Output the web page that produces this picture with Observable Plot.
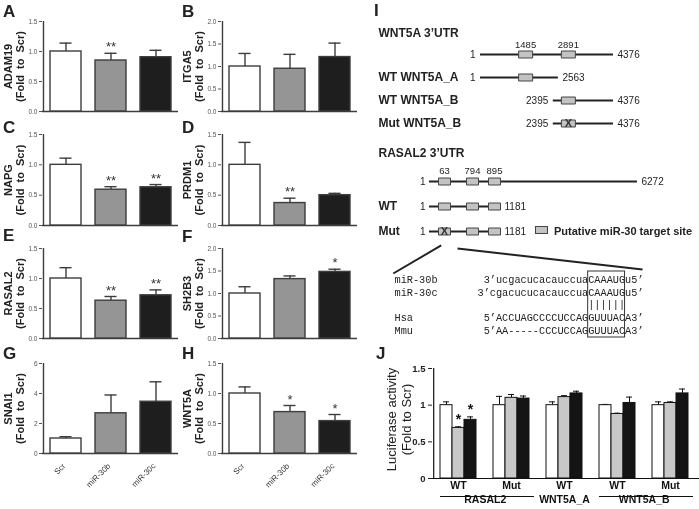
<!DOCTYPE html>
<html><head><meta charset="utf-8">
<script src="https://cdn.jsdelivr.net/npm/d3@7"></script>
<script src="https://cdn.jsdelivr.net/npm/@observablehq/plot@0.6"></script>
<style>
html,body{margin:0;padding:0;background:#fff;}
#fig{position:relative;width:699px;height:509px;overflow:hidden;font-family:Arial,"Liberation Sans",Helvetica,sans-serif;}
#fig svg{will-change:transform;}
.letter{position:absolute;font-weight:bold;font-size:17px;line-height:17px;color:#222;}
.legend{position:absolute;font-weight:bold;font-size:11px;line-height:12px;color:#222;white-space:nowrap;will-change:transform;}
.legend span.sw{display:inline-block;width:11px;height:6px;background:#c3c3c3;border:1px solid #444;margin-right:6px;vertical-align:1px;}
</style></head><body><div id="fig"></div>
<script>
// ---------------- data: panels A–H (qRT-PCR, fold to Scr) ----------------
const treatments = ["Scr", "miR-30b", "miR-30c"];
const adam19 = [1.00, 0.85, 0.905], adam19Err = [0.14, 0.12, 0.115], adam19Sig = ["", "**", ""];
const itga5  = [1.00, 0.95, 1.21],  itga5Err  = [0.29, 0.32, 0.31],  itga5Sig  = ["", "", ""];
const napg   = [1.00, 0.59, 0.63],  napgErr   = [0.11, 0.05, 0.045], napgSig   = ["", "**", "**"];
const prdm1  = [1.00, 0.37, 0.50],  prdm1Err  = [0.37, 0.08, 0.03],  prdm1Sig  = ["", "**", ""];
const rasal2 = [1.00, 0.63, 0.72],  rasal2Err = [0.18, 0.07, 0.09],  rasal2Sig = ["", "**", "**"];
const sh2b3  = [1.00, 1.32, 1.48],  sh2b3Err  = [0.15, 0.07, 0.06],  sh2b3Sig  = ["", "", "*"];
const snai1  = [1.00, 2.68, 3.45],  snai1Err  = [0.12, 1.22, 1.33],  snai1Sig  = ["", "", ""];
const wnt5a  = [1.00, 0.69, 0.54],  wnt5aErr  = [0.11, 0.11, 0.11],  wnt5aSig  = ["", "*", "*"];
const ticks15 = [0, 0.5, 1, 1.5], ticks20 = [0, 0.5, 1, 1.5, 2], ticks6 = [0, 2, 4, 6];

// ---------------- data: panel I (3'UTR constructs) ----------------
const wntRows = ["full", "A", "B", "MutB"];
const wntRowLabels = ["", "WT WNT5A_A", "WT WNT5A_B", "Mut WNT5A_B"];
const wntStart = [1, 1, 2395, 2395];
const wntEnd = [4376, 2563, 4376, 4376];
const wntSites = [1485, 2891];
const rasRows = ["full", "WT", "Mut"];
const rasRowLabels = ["", "WT", "Mut"];
const rasStart = [1, 1, 1];
const rasEnd = [6272, 1181, 1181];
const rasSites = [63, 794, 895];
const rasLandmarks = [1, 63, 794, 895, 1181, 6272];
const alignLabels = ["miR-30b", "miR-30c", "", "Hsa", "Mmu"];
const alignSeqs = ["3’ucgacucacauccuaCAAAUGu5’", "3’cgacucucacauccuaCAAAUGu5’", "||||||", "5’ACCUAGCCCCUCCAGGUUUACA3’", "5’AA-----CCCUCCAGGUUUACA3’"];
const alignStart = [1, 0, 18, 1, 1];
const seed = "CAAAUG";

// ---------------- data: panel J (luciferase) ----------------
const jGroups = ["RASAL2 WT", "RASAL2 Mut", "WNT5A_A WT", "WNT5A_B WT", "WNT5A_B Mut"];
const jTickLabels = ["WT", "Mut", "WT", "WT", "Mut"];
const lucScr = [1.00, 1.00, 1.00, 1.00, 1.00], lucScrErr = [0.045, 0.12, 0.045, 0.01, 0.045], lucScrSig = ["", "", "", "", ""];
const luc30b = [0.69, 1.10, 1.11, 0.88, 1.03], luc30bErr = [0.015, 0.045, 0.02, 0.01, 0.015], luc30bSig = ["*", "", "", "", ""];
const luc30c = [0.80, 1.09, 1.16, 1.03, 1.16], luc30cErr = [0.04, 0.035, 0.03, 0.08, 0.06], luc30cSig = ["*", "", "", "", ""];
const jSuper = [
  {label: "RASAL2", from: "RASAL2 WT", to: "RASAL2 Mut"},
  {label: "WNT5A_A", from: "WNT5A_A WT", to: "WNT5A_A WT"},
  {label: "WNT5A_B", from: "WNT5A_B WT", to: "WNT5A_B Mut"}
];

// ---------------- drawing ----------------
const FONT = 'Arial, "Liberation Sans", Helvetica, sans-serif';
const MONO = '"Liberation Mono", "Courier New", monospace';
const fig = document.getElementById("fig");
function place(el, left, top) {
  el.style.position = "absolute";
  el.style.left = left + "px";
  el.style.top = top + "px";
  fig.appendChild(el);
}
function letter(ch, left, top) {
  const d = document.createElement("div");
  d.className = "letter"; d.textContent = ch;
  d.style.left = left + "px"; d.style.top = top + "px";
  fig.appendChild(d);
}
const baseStyle = (extra) => Object.assign({background: "transparent", overflow: "visible", fontFamily: FONT, color: "#222"}, extra);

const AX = "#3d3d3d";
const PI = 0.32, PO = 0.155;
const ahFill = ["#ffffff", "#959595", "#1e1e1e"];
const cols = [0, 179];
const rows = [
  {top: 0, mt: 21, h: 117, mb: 6},
  {top: 117, mt: 17, h: 114, mb: 6},
  {top: 231, mt: 17, h: 113, mb: 6},
  {top: 344, mt: 19, h: 165, mb: 56}
];
const panels = [
  {L: "A", gene: "ADAM19", v: adam19, e: adam19Err, s: adam19Sig, ticks: ticks15, c: 0, r: 0},
  {L: "B", gene: "ITGA5", v: itga5, e: itga5Err, s: itga5Sig, ticks: ticks20, c: 1, r: 0},
  {L: "C", gene: "NAPG", v: napg, e: napgErr, s: napgSig, ticks: ticks15, c: 0, r: 1},
  {L: "D", gene: "PRDM1", v: prdm1, e: prdm1Err, s: prdm1Sig, ticks: ticks15, c: 1, r: 1},
  {L: "E", gene: "RASAL2", v: rasal2, e: rasal2Err, s: rasal2Sig, ticks: ticks15, c: 0, r: 2},
  {L: "F", gene: "SH2B3", v: sh2b3, e: sh2b3Err, s: sh2b3Sig, ticks: ticks20, c: 1, r: 2},
  {L: "G", gene: "SNAI1", v: snai1, e: snai1Err, s: snai1Sig, ticks: ticks6, c: 0, r: 3, xl: true},
  {L: "H", gene: "WNT5A", v: wnt5a, e: wnt5aErr, s: wnt5aSig, ticks: ticks15, c: 1, r: 3, xl: true}
];

panels.forEach(p => {
  const row = rows[p.r];
  const W = 180, ML = 42, MR = 2;
  const yMax = p.ticks[p.ticks.length - 1];
  const data = treatments.map((t, i) => ({t, v: p.v[i], top: p.v[i] + p.e[i], s: p.s[i]}));
  const xs = d3.scaleBand(treatments, [ML, W - MR]).paddingInner(PI).paddingOuter(PO);
  const axisDx = ML - (xs(treatments[0]) + xs.bandwidth() / 2);
  const capIn = (xs.bandwidth() - 12) / 2;
  const fmt = yMax > 2 ? d3.format("d") : d3.format(".1f");
  const marks = [
    Plot.ruleY([0], {stroke: AX, strokeWidth: 1.4}),
    Plot.ruleX([treatments[0]], {x: d => d, y1: () => 0, y2: () => yMax, dx: axisDx, stroke: AX, strokeWidth: 1.4}),
    Plot.ruleX(data, {x: "t", y1: "v", y2: "top", stroke: AX, strokeWidth: 1.4}),
    Plot.tickY(data, {x: "t", y: "top", stroke: AX, strokeWidth: 1.4, insetLeft: capIn, insetRight: capIn}),
    Plot.barY(data, {x: "t", y: "v", fill: "t", stroke: AX, strokeWidth: 1.4}),
    Plot.text(data.filter(d => d.s), {x: "t", y: "top", text: "s", dy: -6, fontSize: 13, fill: "#333"}),
    Plot.text([p.gene], {frameAnchor: "left", rotate: -90, textAnchor: "middle", dx: -34, text: d => d, fontSize: 11, fontWeight: "bold", fill: "#222"}),
    Plot.text(["(Fold to Scr)"], {frameAnchor: "left", rotate: -90, textAnchor: "middle", dx: -22, text: d => d, fontSize: 11, fontWeight: "bold", fill: "#222"})
  ];
  if (p.xl) {
    marks.push(Plot.text(treatments, {x: d => d, frameAnchor: "bottom", rotate: -45, textAnchor: "end", dy: 13, dx: 0, text: d => d, fontSize: 8, fill: "#333"}));
  }
  const svg = Plot.plot({
    width: W, height: row.h, marginLeft: ML, marginRight: MR, marginTop: row.mt, marginBottom: row.mb,
    style: baseStyle({fontSize: "6.5px", color: "#555"}),
    x: {type: "band", domain: treatments, paddingInner: PI, paddingOuter: PO, axis: null},
    y: {domain: [0, yMax], ticks: p.ticks, tickFormat: fmt, tickSize: 3, tickPadding: 2, label: null},
    color: {domain: treatments, range: ahFill},
    marks
  });
  svg.querySelectorAll("text").forEach(t => { if (t.textContent === "(Fold to Scr)") t.style.wordSpacing = "3px"; });
  place(svg, cols[p.c], row.top);
});

// letters
[["A", 3, 3], ["B", 182, 3], ["C", 3, 119], ["D", 182, 119], ["E", 3, 227], ["F", 182, 228],
 ["G", 3, 345], ["H", 182, 345], ["I", 374, 2], ["J", 376, 345]].forEach(([c, x, y]) => letter(c, x, y));

// ---------------- panel I ----------------
const boxSym = (w, h) => ({draw(ctx) { ctx.rect(-w / 2, -h / 2, w, h); }});
const BOXFILL = "#c3c3c3", BOXSTROKE = "#444", LINE = "#222";
{
  const cons = wntRows.map((r, i) => ({row: r, label: wntRowLabels[i], start: wntStart[i], end: wntEnd[i]}));
  const boxes = cons.flatMap(c => wntSites.filter(s => s >= c.start && s <= c.end)
    .map(s => ({row: c.row, pos: s, mut: c.row.startsWith("Mut")})));
  const svg = Plot.plot({
    width: 329, height: 115, marginLeft: 8, marginTop: 0, marginRight: 0, marginBottom: 0,
    style: baseStyle({fontSize: "10px"}),
    x: {domain: [1, 4376], range: [110, 243], axis: null},
    y: {type: "point", domain: wntRows, range: [33, 104], padding: 0, axis: null},
    marks: [
      Plot.ruleY(cons, {y: "row", x1: "start", x2: "end", stroke: LINE, strokeWidth: 2}),
      Plot.dot(boxes, {x: "pos", y: "row", symbol: boxSym(14, 7), fill: BOXFILL, stroke: BOXSTROKE, strokeWidth: 1}),
      Plot.text(boxes.filter(d => d.mut), {x: "pos", y: "row", text: () => "X", fontWeight: "bold", fontSize: 11, fill: "#333"}),
      Plot.text(cons, {x: "start", y: "row", text: d => String(d.start), textAnchor: "end", dx: -5, fontSize: 10}),
      Plot.text(cons, {x: "end", y: "row", text: d => String(d.end), textAnchor: "start", dx: 4, fontSize: 10}),
      Plot.text(boxes.filter(d => d.row === "full"), {x: "pos", y: "row", text: d => String(d.pos), dy: -10, fontSize: 9.5}),
      Plot.text(cons.filter(d => d.label), {frameAnchor: "left", y: "row", text: "label", fontWeight: "bold", fontSize: 12}),
      Plot.text(["WNT5A 3’UTR"], {frameAnchor: "top-left", dy: 8, text: d => d, fontWeight: "bold", fontSize: 12})
    ]
  });
  place(svg, 370, 20);
}
{
  const cons = rasRows.map((r, i) => ({row: r, label: rasRowLabels[i], start: rasStart[i], end: rasEnd[i]}));
  const boxes = cons.flatMap(c => rasSites.filter(s => s >= c.start && s <= c.end)
    .map((s, j) => ({row: c.row, pos: s, mut: c.row === "Mut" && j === 0})));
  // schematic (not-to-scale) placement of the RASAL2 landmarks along the drawn line
  const schematic = d3.scaleLinear(rasLandmarks, [0, 15, 43, 65, 71, 208]);
  const svg = Plot.plot({
    width: 329, height: 100, marginLeft: 8, marginTop: 0, marginRight: 0, marginBottom: 0,
    style: baseStyle({fontSize: "10px"}),
    x: {transform: schematic, domain: [0, 208], range: [59, 267], axis: null},
    y: {type: "point", domain: rasRows, range: [40, 91], padding: 0, axis: null},
    marks: [
      Plot.ruleY(cons, {y: "row", x1: "start", x2: "end", stroke: LINE, strokeWidth: 2}),
      Plot.dot(boxes, {x: "pos", y: "row", symbol: boxSym(12, 7), fill: BOXFILL, stroke: BOXSTROKE, strokeWidth: 1}),
      Plot.text(boxes.filter(d => d.mut), {x: "pos", y: "row", text: () => "X", fontWeight: "bold", fontSize: 11, fill: "#333"}),
      Plot.text(cons, {x: "start", y: "row", text: d => String(d.start), textAnchor: "end", dx: -4, fontSize: 10}),
      Plot.text(cons, {x: "end", y: "row", text: d => String(d.end), textAnchor: "start", dx: 4, fontSize: 10}),
      Plot.text(boxes.filter(d => d.row === "full"), {x: "pos", y: "row", text: d => String(d.pos), dy: -11, fontSize: 9.5}),
      Plot.text(cons.filter(d => d.label), {frameAnchor: "left", y: "row", text: "label", fontWeight: "bold", fontSize: 12}),
      Plot.text(["RASAL2 3’UTR"], {frameAnchor: "top-left", dy: 8, text: d => d, fontWeight: "bold", fontSize: 12})
    ]
  });
  place(svg, 370, 140);
  const lg = document.createElement("div");
  lg.className = "legend";
  lg.innerHTML = '<span class="sw"></span>Putative miR-30 target site';
  lg.style.left = "535px"; lg.style.top = "225px";
  fig.appendChild(lg);
}
{
  const lines = alignSeqs.map((s, i) => ({row: i, label: alignLabels[i], seq: s, start: alignStart[i]}));
  const seedStart = alignStart[1] + alignSeqs[1].indexOf(seed);
  const seedBox = [{x1: seedStart, x2: seedStart + seed.length}];
  // connector lines from the mutated RASAL2 site down to the alignment (char / row units)
  const connectors = [
    {x1: -5.9, y1: -2.67, x2: -13.7, y2: -0.47},
    {x1: -3.25, y1: -2.43, x2: 26.85, y2: -0.78}
  ];
  const svg = Plot.plot({
    width: 329, height: 105, marginLeft: 24, marginTop: 31, marginRight: 0, marginBottom: 8,
    style: baseStyle({fontSize: "10px"}),
    x: {domain: [0, 27], range: [107, 273], axis: null},
    y: {domain: [0, 4], range: [39, 90], axis: null},
    marks: [
      Plot.link(connectors, {x1: "x1", y1: "y1", x2: "x2", y2: "y2", stroke: LINE, strokeWidth: 2}),
      Plot.rect(seedBox, {x1: "x1", x2: "x2", fill: "none", stroke: "#333", strokeWidth: 1}),
      Plot.text(lines, {x: "start", y: "row", text: "seq", textAnchor: "start", fontFamily: MONO, fontSize: 10.25, fill: "#222"}),
      Plot.text(lines.filter(d => d.label), {frameAnchor: "left", y: "row", text: "label", fontFamily: MONO, fontSize: 10.25, fill: "#222"})
    ]
  });
  place(svg, 370, 240);
}

// ---------------- panel J ----------------
{
  const W = 329, ML = 62, MR = 0;
  const JPI = 0.327, JPO = 0.159, JAL = 0.4;
  const xs = d3.scaleBand(jGroups, [ML, W - MR]).paddingInner(JPI).paddingOuter(JPO).align(JAL);
  const bw = xs.bandwidth(), BAR = bw / 3, step = xs.step(), gap = step - bw;
  const axisDx = ML - (xs(jGroups[0]) + bw / 2);
  const capIn = (bw - 6) / 2;
  const series = [
    {v: lucScr, e: lucScrErr, s: lucScrSig, fill: "#ffffff"},
    {v: luc30b, e: luc30bErr, s: luc30bSig, fill: "#c8c8c8"},
    {v: luc30c, e: luc30cErr, s: luc30cSig, fill: "#141414"}
  ];
  const marks = [
    Plot.ruleY([0], {stroke: "#111", strokeWidth: 1.2}),
    Plot.ruleX([jGroups[0]], {x: d => d, y1: () => 0, y2: () => 1.5, dx: axisDx, stroke: "#111", strokeWidth: 1.2})
  ];
  series.forEach((ser, k) => {
    const d = jGroups.map((g, i) => ({g, v: ser.v[i], top: ser.v[i] + ser.e[i], s: ser.s[i]}));
    const off = (k - 1) * BAR;
    marks.push(
      Plot.ruleX(d, {x: "g", y1: "v", y2: "top", dx: off, stroke: "#111", strokeWidth: 1}),
      Plot.tickY(d, {x: "g", y: "top", dx: off, insetLeft: capIn, insetRight: capIn, stroke: "#111", strokeWidth: 1}),
      Plot.barY(d, {x: "g", y: "v", insetLeft: BAR * k, insetRight: BAR * (2 - k), fill: ser.fill, stroke: "#111", strokeWidth: 1}),
      Plot.text(d.filter(x => x.s), {x: "g", y: "top", dx: off, dy: -7, text: "s", fontSize: 14, fontWeight: "bold", fill: "#111"})
    );
  });
  const spans = jSuper.filter(d => d.from !== d.to), singles = jSuper.filter(d => d.from === d.to);
  const spanLeft = spans.map(s => ({g: s.from})), spanRight = spans.map(s => ({g: s.to}));
  marks.push(
    Plot.text(jGroups, {x: d => d, frameAnchor: "bottom", dy: 10, text: (d, i) => jTickLabels[i], fontSize: 10.5, fontWeight: "bold", fill: "#111"}),
    Plot.tickY(spanLeft, {x: "g", y: () => 0, dy: 18, insetRight: -gap / 2, stroke: "#111", strokeWidth: 1}),
    Plot.tickY(spanRight, {x: "g", y: () => 0, dy: 18, insetLeft: -gap / 2, insetRight: -5, stroke: "#111", strokeWidth: 1}),
    Plot.text(spans, {x: "from", frameAnchor: "bottom", dx: step / 2, dy: 24, text: "label", fontSize: 10.5, fontWeight: "bold", fill: "#111"}),
    Plot.text(singles, {x: "from", frameAnchor: "bottom", dy: 24, text: "label", fontSize: 10.5, fontWeight: "bold", fill: "#111"}),
    Plot.text(["Luciferase activity"], {frameAnchor: "left", rotate: -90, textAnchor: "middle", dx: -41, dy: -4, text: d => d, fontSize: 13, fontWeight: "normal", fill: "#222"}),
    Plot.text(["(Fold to Scr)"], {frameAnchor: "left", rotate: -90, textAnchor: "middle", dx: -26, dy: -4, text: d => d, fontSize: 13, fontWeight: "normal", fill: "#222"})
  );
  const svg = Plot.plot({
    width: W, height: 154, marginLeft: ML, marginRight: MR, marginTop: 13, marginBottom: 31,
    style: baseStyle({fontSize: "9.5px", fontWeight: "bold", color: "#222"}),
    x: {type: "band", domain: jGroups, paddingInner: JPI, paddingOuter: JPO, align: JAL, axis: null},
    y: {domain: [0, 1.5], ticks: [0, 0.5, 1, 1.5], tickFormat: d => String(d), tickSize: 4, tickPadding: 3, label: null},
    marks
  });
  place(svg, 370, 355);
}
</script></body></html>
